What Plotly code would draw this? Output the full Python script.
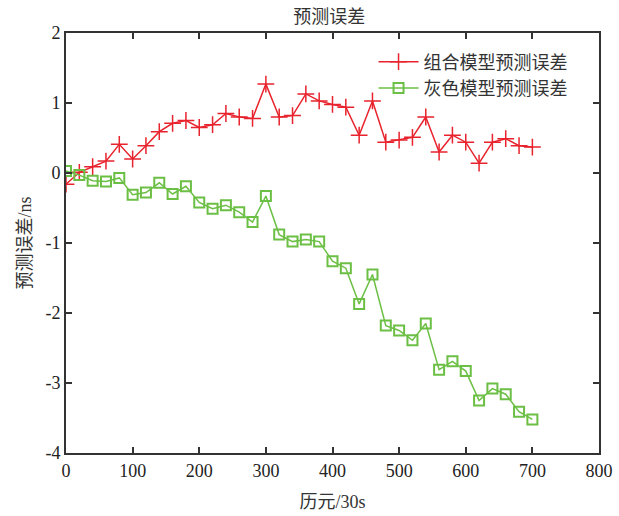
import plotly.graph_objects as go

epochs = list(range(0, 701, 20))
combo_err = [-0.16, 0.01, 0.09, 0.17, 0.41, 0.20, 0.39, 0.59, 0.71, 0.75,
             0.65, 0.69, 0.85, 0.80, 0.78, 1.27, 0.80, 0.82, 1.13, 1.03,
             0.98, 0.94, 0.54, 1.03, 0.44, 0.47, 0.51, 0.80, 0.30, 0.54,
             0.44, 0.14, 0.44, 0.49, 0.39, 0.37]
grey_err = [0.03, -0.03, -0.11, -0.12, -0.07, -0.31, -0.28, -0.14, -0.30, -0.19,
            -0.42, -0.51, -0.46, -0.56, -0.70, -0.33, -0.88, -0.98, -0.95, -0.98,
            -1.26, -1.36, -1.87, -1.45, -2.18, -2.25, -2.39, -2.15, -2.81, -2.69,
            -2.83, -3.25, -3.08, -3.16, -3.41, -3.52]
x_ticks = [0, 100, 200, 300, 400, 500, 600, 700, 800]
y_ticks = [-4, -3, -2, -1, 0, 1, 2]
y_tick_labels = ["-4", "-3", "-2", "-1", "0", "1", "2"]

NUM_FONT = "Liberation Serif"
CJK_FONT = "Liberation Serif, Noto Sans CJK SC"

fig = go.Figure()
fig.add_trace(go.Scatter(
    x=epochs, y=combo_err, mode="lines+markers", name="组合模型预测误差",
    line=dict(color="#e8232d", width=1.5),
    marker=dict(symbol="cross-thin-open", size=12, line=dict(color="#e8232d", width=1.5)),
))
fig.add_trace(go.Scatter(
    x=epochs, y=grey_err, mode="lines+markers", name="灰色模型预测误差",
    line=dict(color="#6cbf45", width=1.5),
    marker=dict(symbol="square-open", size=10, color="#6cbf45", line=dict(color="#6cbf45", width=2)),
))

axis_common = dict(
    showgrid=False, zeroline=False, showline=True, linecolor="#333333", linewidth=2,
    mirror="ticks", ticks="inside", ticklen=6, tickwidth=1.5, tickcolor="#333333",
    tickfont=dict(family=NUM_FONT, size=18, color="#222222"),
    automargin=False,
)

fig.update_layout(
    width=619, height=516,
    margin=dict(l=66, r=20, t=33, b=63),
    paper_bgcolor="white", plot_bgcolor="white",
    title=dict(text="预测误差", x=0.532, xanchor="center", y=0.967, yanchor="middle",
               font=dict(family=CJK_FONT, size=18, color="#333333")),
    xaxis=dict(range=[0, 800], tickvals=x_ticks,
               title=dict(text="历元/30s", font=dict(family=CJK_FONT, size=18, color="#333333"), standoff=16),
               **axis_common),
    yaxis=dict(range=[-4, 2], tickvals=y_ticks, ticktext=y_tick_labels,
               title=dict(text="预测误差/ns", font=dict(family=CJK_FONT, size=18, color="#333333"), standoff=9),
               **axis_common),
    legend=dict(x=0.577, y=0.975, xanchor="left", yanchor="top", bgcolor="rgba(0,0,0,0)",
                font=dict(family=CJK_FONT, size=18, color="#333333"),
                tracegroupgap=0, itemwidth=40),
    showlegend=True,
)

fig.write_html("out.html")
